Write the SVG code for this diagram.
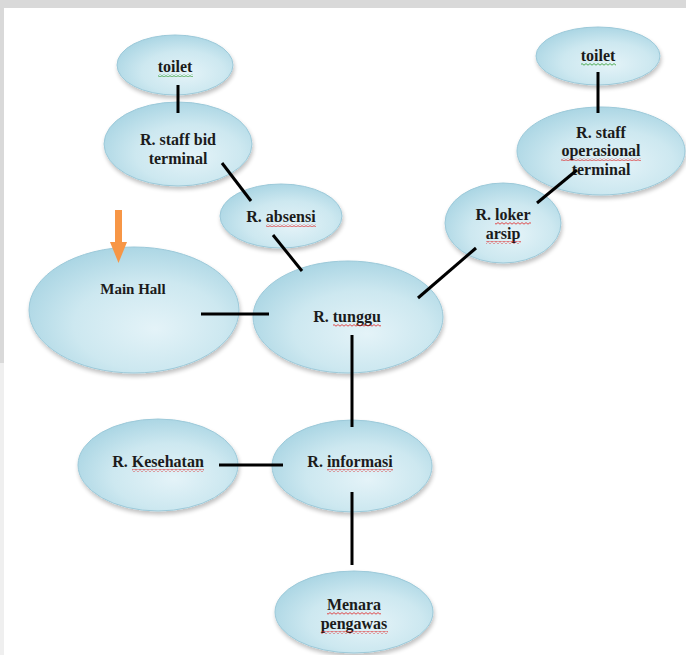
<svg xmlns="http://www.w3.org/2000/svg" width="686" height="655" viewBox="0 0 686 655">
  <defs>
    <radialGradient id="bubble" cx="0.55" cy="0.6" r="0.65" fx="0.6" fy="0.65">
      <stop offset="0" stop-color="#e4f3f8"/>
      <stop offset="0.55" stop-color="#cde8f0"/>
      <stop offset="1" stop-color="#a6d3e2"/>
    </radialGradient>
    <filter id="soft" x="-10%" y="-10%" width="120%" height="130%">
      <feGaussianBlur in="SourceAlpha" stdDeviation="2"/>
      <feOffset dx="1" dy="3" result="blur"/>
      <feComponentTransfer><feFuncA type="linear" slope="0.25"/></feComponentTransfer>
      <feMerge><feMergeNode/><feMergeNode in="SourceGraphic"/></feMerge>
    </filter>
    <pattern id="wavyRed" width="4" height="3" patternUnits="userSpaceOnUse">
      <path d="M0 2.2 L2 0.6 L4 2.2" fill="none" stroke="#e02020" stroke-width="0.8"/>
    </pattern>
    <pattern id="wavyGreen" width="4" height="3" patternUnits="userSpaceOnUse">
      <path d="M0 2.2 L2 0.6 L4 2.2" fill="none" stroke="#2a9a2a" stroke-width="0.8"/>
    </pattern>
  </defs>
  <style>
    .room { fill: url(#bubble); stroke: #9cc9d9; stroke-width: 1; filter: url(#soft); }
    .label { font-family: "Liberation Serif", "Times New Roman", serif; font-weight: bold; font-size: 16px; fill: #1b1b1b; text-anchor: middle; }
    .small { font-size: 15px; }
    .link { stroke: #000; stroke-width: 3; fill: none; }
    .sq-r { fill: url(#wavyRed); }
    .sq-g { fill: url(#wavyGreen); }
  </style>

  <!-- page background and scanned frame -->
  <rect width="686" height="655" fill="#ffffff"/>
  <rect x="0" y="0" width="686" height="8" fill="#d9d9d9"/>
  <rect x="0" y="0" width="4" height="363" fill="#d9d9d9"/>
  <rect x="0" y="363" width="4" height="292" fill="#efefef"/>

  <!-- rooms -->
  <g id="toilet-left">
    <ellipse class="room" cx="175" cy="65" rx="58" ry="30"/>
    <text class="label" x="175" y="72">toilet</text>
    <rect class="sq-g" x="158" y="74" width="35" height="3"/>
  </g>
  <g id="staff-bid-terminal">
    <ellipse class="room" cx="178" cy="144" rx="74" ry="42"/>
    <text class="label" x="178" y="145">R. staff bid</text>
    <text class="label" x="178" y="164">terminal</text>
  </g>
  <g id="absensi">
    <ellipse class="room" cx="281" cy="216" rx="61" ry="32"/>
    <text class="label" x="281" y="222">R. absensi</text>
    <rect class="sq-r" x="266" y="224" width="50" height="3"/>
  </g>
  <g id="main-hall">
    <ellipse class="room" cx="134" cy="310" rx="105" ry="63"/>
    <text class="label small" x="133" y="294">Main Hall</text>
  </g>
  <g id="tunggu">
    <ellipse class="room" cx="348" cy="317" rx="95" ry="56"/>
    <text class="label" x="347" y="322">R. tunggu</text>
    <rect class="sq-r" x="333" y="324" width="48" height="3"/>
  </g>
  <g id="loker-arsip">
    <ellipse class="room" cx="503" cy="223" rx="58" ry="40"/>
    <text class="label" x="503" y="220">R. loker</text>
    <rect class="sq-r" x="495" y="222" width="36" height="3"/>
    <text class="label" x="503" y="239">arsip</text>
    <rect class="sq-r" x="486" y="241" width="35" height="3"/>
  </g>
  <g id="staff-operasional-terminal">
    <ellipse class="room" cx="601" cy="151" rx="84" ry="44"/>
    <text class="label" x="601" y="138">R. staff</text>
    <text class="label" x="601" y="156">operasional</text>
    <rect class="sq-r" x="561" y="158" width="80" height="3"/>
    <text class="label" x="601" y="175">terminal</text>
  </g>
  <g id="toilet-right">
    <ellipse class="room" cx="598" cy="56" rx="62" ry="29"/>
    <text class="label" x="598" y="61">toilet</text>
    <rect class="sq-g" x="581" y="63" width="35" height="3"/>
  </g>
  <g id="informasi">
    <ellipse class="room" cx="352" cy="466" rx="80" ry="46"/>
    <text class="label" x="350" y="467">R. informasi</text>
    <rect class="sq-r" x="327" y="469" width="66" height="3"/>
  </g>
  <g id="kesehatan">
    <ellipse class="room" cx="158" cy="465" rx="80" ry="46"/>
    <text class="label" x="158" y="467">R. Kesehatan</text>
    <rect class="sq-r" x="132" y="469" width="72" height="3"/>
  </g>
  <g id="menara-pengawas">
    <ellipse class="room" cx="354" cy="612" rx="79" ry="41"/>
    <text class="label" x="354" y="610">Menara</text>
    <rect class="sq-r" x="327" y="612" width="54" height="3"/>
    <text class="label" x="354" y="629">pengawas</text>
    <rect class="sq-r" x="321" y="631" width="67" height="3"/>
  </g>

  <!-- entrance marker -->
  <g id="entrance-arrow">
    <rect x="115" y="210" width="7" height="34" fill="#f79646"/>
    <polygon points="110,242 127,242 118.5,263" fill="#f79646"/>
  </g>

  <!-- connectors -->
  <g id="connectors">
    <line class="link" x1="178" y1="85" x2="178" y2="113"/>
    <line class="link" x1="598" y1="72" x2="598" y2="113"/>
    <line class="link" x1="222" y1="163" x2="251" y2="201"/>
    <line class="link" x1="273" y1="235" x2="302" y2="271"/>
    <line class="link" x1="201" y1="314" x2="269" y2="314"/>
    <line class="link" x1="418" y1="298" x2="476" y2="248"/>
    <line class="link" x1="537" y1="203" x2="577" y2="170"/>
    <line class="link" x1="352" y1="335" x2="352" y2="427"/>
    <line class="link" x1="219" y1="465" x2="283" y2="465"/>
    <line class="link" x1="352" y1="492" x2="352" y2="565"/>
  </g>
</svg>
